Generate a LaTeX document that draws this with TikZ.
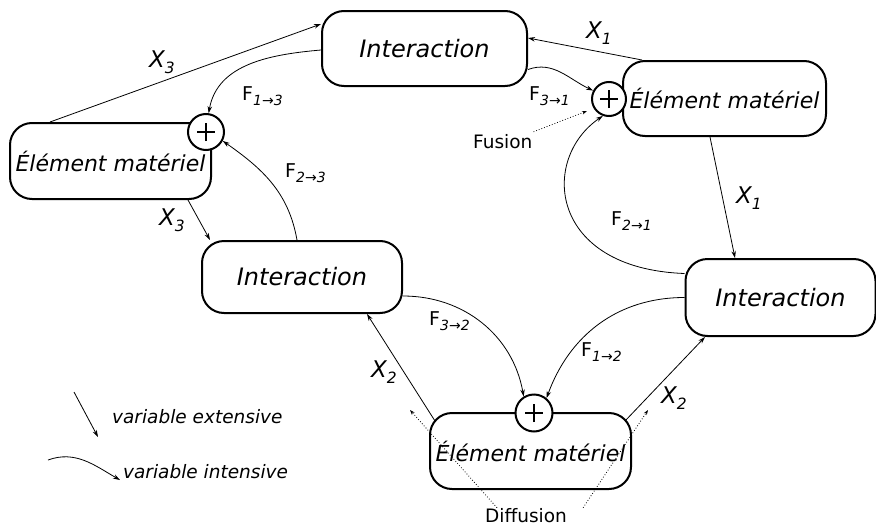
\documentclass[tikz,border=0pt]{standalone}
\usepackage{fontspec}
\setmainfont{DejaVu Sans}
\usetikzlibrary{arrows.meta,calc}
\newcommand\fsz[1]{\fontsize{#1}{#1}\selectfont}
\newcommand\XL[1]{{\fsz{23}\itshape X\raisebox{-6pt}{\fsz{15.5}#1}}}
\newcommand\FL[2]{{\fsz{19}F\raisebox{-5pt}{\fsz{14}\itshape #1{\upshape →}#2}}}
\begin{document}
\begin{tikzpicture}[x=1pt,y=1pt,
  box/.style={draw, line width=2pt, rounded corners=22pt, fill=white, inner sep=0pt},
  inter/.style={box, font=\fsz{24}\itshape},
  elem/.style={box, font=\fsz{22}\itshape},
  plus/.style={circle, draw, line width=2pt, fill=white, minimum size=35pt, inner sep=0pt,
    path picture={\draw[line width=2.4pt]
      ([xshift=-9pt]path picture bounding box.center) -- ([xshift=9pt]path picture bounding box.center)
      ([yshift=-9pt]path picture bounding box.center) -- ([yshift=9pt]path picture bounding box.center);}},
  conn/.style={line width=0.8pt, -{Stealth[length=7pt,width=4.5pt]}},
  dots/.style={dotted, line width=0.8pt, -{Stealth[length=5pt,width=3.5pt]}},
  lab/.style={inner sep=0pt, anchor=base west},
  small/.style={lab, font=\fsz{18.5}}
]
\useasboundingbox (0,0) rectangle (876,-525);

% boxes
\node[inter, minimum width=205pt, minimum height=75pt] (I1) at (424.5,-48.5) {Interaction};
\node[elem,  minimum width=203pt, minimum height=75pt] (E1) at (724.5,-98.5) {Élément matériel};
\node[elem,  minimum width=201pt, minimum height=76pt] (E3) at (110.5,-161) {Élément matériel};
\node[inter, minimum width=200pt, minimum height=72pt] (I3) at (302,-277) {Interaction};
\node[inter, minimum width=190pt, minimum height=77pt] (I2) at (780.5,-297.5) {Interaction};
\node[elem,  minimum width=201pt, minimum height=76pt] (E2) at (530.5,-451) {Élément matériel};

% summation circles
\node[plus, minimum size=34pt] (P1) at (609,-99) {};
\node[plus, minimum size=36pt] (P3) at (206,-132) {};
\node[plus, minimum size=37pt] (P2) at (534,-413) {};

% extensive variables
\draw[conn] ([xshift=-60.5pt]E3.north) -- ([yshift=24.5pt]I1.west);
\draw[conn] ([xshift=77.5pt]E3.south) -- ([xshift=-92pt]I3.north);
\draw[conn] ([xshift=-82.5pt]E1.north) -- ([yshift=10.5pt]I1.east);
\draw[conn] ([xshift=-14.5pt]E1.south) -- ([xshift=-45.5pt]I2.north);
\draw[conn] ([xshift=-95.5pt,yshift=-9pt]E2.north) -- ([xshift=65pt]I3.south);
\draw[conn] ([xshift=94.5pt,yshift=-9pt]E2.north) -- ([xshift=-75.5pt]I2.south);

% intensive variables
\draw[conn] ([yshift=-1.5pt]I1.west) to[out=185,in=80] (P3.82);
\draw[conn] ([xshift=-5pt]I3.north) to[out=100,in=-35] (P3.-28);
\draw[conn] ([yshift=-21pt]I1.east) to[out=20,in=155] (P1.152);
\draw[conn] ([yshift=24pt]I2.west) .. controls +(-136,5) and +(-63,-43) .. (P1.250);
\draw[conn] ([yshift=-19pt]I3.east) to[out=0,in=100] (P2.122);
\draw[conn] (I2.west) to[out=180,in=70] (P2.50);

% labels
\node[lab] (lx3a) at (149,-67) {\XL{3}};
\node[lab] (lx3b) at (159,-225) {\XL{3}};
\node[lab] (lx1a) at (586,-38) {\XL{1}};
\node[lab] (lx1b) at (736,-203) {\XL{1}};
\node[lab] (lx2a) at (371,-377) {\XL{2}};
\node[lab] (lx2b) at (661,-403) {\XL{2}};
\node[lab] (lf13) at (242,-100) {\FL{1}{3}};
\node[lab] (lf23) at (285,-177) {\FL{2}{3}};
\node[lab] (lf31) at (529,-100) {\FL{3}{1}};
\node[lab] (lf21) at (611,-225) {\FL{2}{1}};
\node[lab] (lf32) at (429,-325) {\FL{3}{2}};
\node[lab] (lf12) at (581,-356) {\FL{1}{2}};

% fusion / diffusion
\node[small] (fus) at (473,-148) {Fusion};
\coordinate (fusT) at (587,-111);
\draw[dots] ([xshift=1pt,yshift=2pt]fus.north east) -- (fusT);
\node[small] (dif) at (485,-522) {Diffusion};
\coordinate (difL) at (410,-410);
\coordinate (difR) at (648,-410);
\draw[dots] ([xshift=12pt]dif.north west) -- (difL);
\draw[dots] ([xshift=16pt]dif.north east) -- (difR);

% legend
\coordinate (le1) at (74,-392);
\coordinate (le2) at (98,-437);
\draw[conn] (le1) -- (le2);
\node[small, font=\fsz{18.5}\itshape] (lext) at (112,-423) {variable extensive};
\coordinate (li1) at (48,-460);
\coordinate (li2) at (120,-480);
\draw[conn] (li1) to[out=20,in=150] (li2);
\node[small, font=\fsz{18.5}\itshape] (lint) at (123,-478) {variable intensive};
\end{tikzpicture}
\end{document}
